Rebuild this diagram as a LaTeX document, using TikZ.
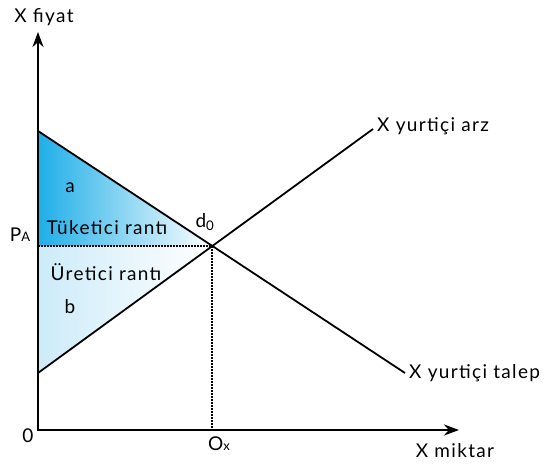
\documentclass[tikz,border=0pt]{standalone}
\usepackage{fontspec}
\setmainfont{Lato}[LetterSpace=7]
\usepackage{tikz}
\usetikzlibrary{arrows.meta}
\definecolor{ccCyan}{HTML}{1EAEE8}
\definecolor{ccPale}{HTML}{CDEBF9}
\colorlet{csB}{ccCyan}
\colorlet{psB}{ccPale}
\tikzset{axisline/.style={line width=2.8pt, -{Stealth[length=15pt,width=11pt]}},
  curveline/.style={line width=1.8pt},
  guideline/.style={line width=1.6pt, dash pattern=on 1.6pt off 1.4pt}}

\begin{document}
\begin{tikzpicture}[x=1pt,y=1pt,font=\fontsize{19}{22}\selectfont]
\useasboundingbox (-38,-37) rectangle (514,430);
\coordinate (o) at (0,0);
\coordinate (ytop) at (0,398);
\coordinate (xend) at (421,0);
\coordinate (d1) at (0,299);
\coordinate (d2) at (367,57);
\coordinate (s1) at (0,57);
\coordinate (s2) at (335,301);
\coordinate (e) at (174,184);
\coordinate (pa) at (0,184);
\coordinate (qx) at (174,0);
\shade[left color=csB, middle color=csB!75, right color=white] (d1) -- (pa) -- (e) -- cycle;
\shade[left color=psB, right color=white] (pa) -- (e) -- (s1) -- cycle;
\draw[guideline] (pa) -- (e);
\draw[guideline] (e) -- (qx);
\draw[curveline] (d1) -- (d2) node[right] (talep) {X yurtiçi talep};
\draw[curveline] (s1) -- (s2) node[right, yshift=3pt] (arz) {X yurtiçi arz};
\draw[axisline] ([yshift=-1.4pt]o) -- (ytop);
\draw[axisline] ([xshift=-1.4pt]o) -- (xend);
\node (yl) at (6,413) {X fiyat};
\node (xl) at (417,-21) {X miktar};
\node (zero) at (-10,-6) {0};
\node (ox) at (181,-14) {O{\fontsize{13}{15}\selectfont x}};
\node (pal) at (-18,195) {P{\fontsize{13}{15}\selectfont A}};
\node (d0) at (167,208) {d\textsubscript{0}};
\node (a) at (32,242) {a};
\node (b) at (32,123) {b};
\node (tr) at (69,202) {Tüketici rantı};
\node (ur) at (68,158) {Üretici rantı};
\end{tikzpicture}
\end{document}
